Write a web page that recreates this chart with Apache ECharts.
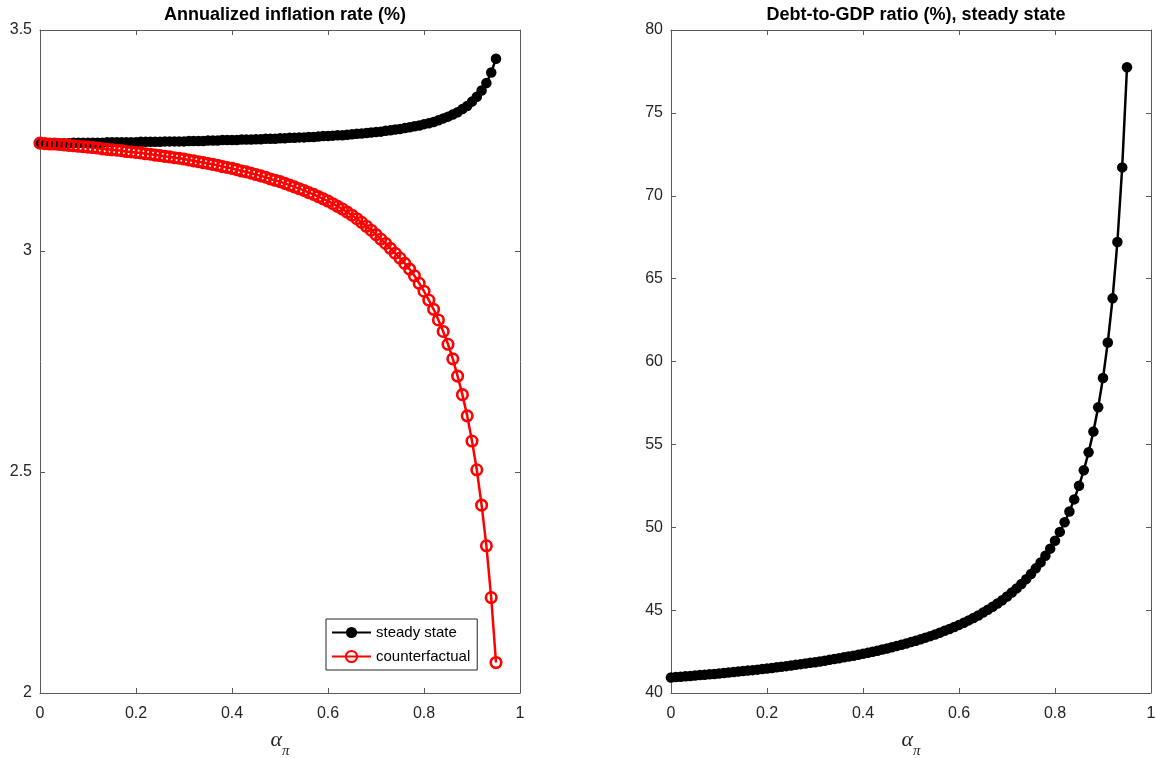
<!DOCTYPE html>
<html>
<head>
<meta charset="utf-8">
<script src="https://cdn.jsdelivr.net/npm/echarts@6/dist/echarts.min.js"></script>
<style>
html,body{margin:0;padding:0;background:#fff;width:1156px;height:758px;overflow:hidden;}
#chart{width:1156px;height:758px;}
</style>
</head>
<body>
<div id="chart"></div>
<script>
// alpha_pi grid (x values)
var alphaPi = [
0.00,0.01,0.02,0.03,0.04,0.05,0.06,0.07,0.08,0.09,
0.10,0.11,0.12,0.13,0.14,0.15,0.16,0.17,0.18,0.19,
0.20,0.21,0.22,0.23,0.24,0.25,0.26,0.27,0.28,0.29,
0.30,0.31,0.32,0.33,0.34,0.35,0.36,0.37,0.38,0.39,
0.40,0.41,0.42,0.43,0.44,0.45,0.46,0.47,0.48,0.49,
0.50,0.51,0.52,0.53,0.54,0.55,0.56,0.57,0.58,0.59,
0.60,0.61,0.62,0.63,0.64,0.65,0.66,0.67,0.68,0.69,
0.70,0.71,0.72,0.73,0.74,0.75,0.76,0.77,0.78,0.79,
0.80,0.81,0.82,0.83,0.84,0.85,0.86,0.87,0.88,0.89,
0.90,0.91,0.92,0.93,0.94,0.95];

// Annualized inflation rate (%), steady state
var inflSteady = [
3.244,3.244,3.244,3.244,3.244,3.244,3.244,3.245,3.245,3.245,
3.245,3.245,3.245,3.245,3.246,3.246,3.246,3.246,3.246,3.246,
3.246,3.247,3.247,3.247,3.247,3.247,3.248,3.248,3.248,3.248,
3.248,3.249,3.249,3.249,3.249,3.250,3.250,3.250,3.251,3.251,
3.251,3.251,3.252,3.252,3.252,3.253,3.253,3.254,3.254,3.254,
3.255,3.255,3.256,3.256,3.257,3.257,3.258,3.258,3.259,3.260,
3.260,3.261,3.262,3.262,3.263,3.264,3.265,3.266,3.267,3.268,
3.269,3.270,3.272,3.273,3.275,3.276,3.278,3.280,3.282,3.284,
3.287,3.289,3.292,3.296,3.300,3.304,3.309,3.314,3.321,3.328,
3.338,3.349,3.363,3.380,3.404,3.435];

// Annualized inflation rate (%), counterfactual
var inflCounter = [
3.244,3.243,3.242,3.242,3.241,3.240,3.239,3.238,3.237,3.236,
3.235,3.234,3.233,3.231,3.230,3.229,3.228,3.227,3.225,3.224,
3.223,3.222,3.220,3.219,3.217,3.216,3.214,3.213,3.211,3.210,
3.208,3.206,3.204,3.202,3.200,3.198,3.196,3.194,3.191,3.189,
3.187,3.184,3.181,3.179,3.176,3.173,3.170,3.167,3.163,3.160,
3.157,3.153,3.149,3.145,3.141,3.137,3.132,3.128,3.123,3.118,
3.113,3.107,3.101,3.095,3.088,3.081,3.073,3.065,3.056,3.047,
3.037,3.027,3.017,3.006,2.995,2.984,2.972,2.959,2.944,2.927,
2.909,2.889,2.868,2.844,2.818,2.789,2.756,2.717,2.675,2.627,
2.570,2.505,2.425,2.333,2.216,2.069];

// Debt-to-GDP ratio (%), steady state
var debtGDP = [
40.94,40.96,40.98,41.01,41.03,41.05,41.08,41.10,41.13,41.15,
41.18,41.21,41.24,41.26,41.29,41.32,41.35,41.38,41.41,41.45,
41.48,41.51,41.55,41.58,41.62,41.66,41.70,41.74,41.78,41.82,
41.86,41.90,41.95,42.00,42.05,42.10,42.15,42.20,42.25,42.31,
42.37,42.43,42.49,42.55,42.62,42.69,42.76,42.83,42.91,42.99,
43.07,43.15,43.24,43.34,43.43,43.53,43.64,43.75,43.86,43.98,
44.11,44.24,44.38,44.53,44.68,44.85,45.02,45.20,45.40,45.60,
45.82,46.06,46.31,46.58,46.87,47.18,47.52,47.88,48.28,48.71,
49.19,49.72,50.30,50.95,51.68,52.50,53.44,54.52,55.77,57.24,
59.00,61.15,63.81,67.21,71.71,77.75];

var seriesNames = ['steady state', 'counterfactual'];
var titles = ['Annualized inflation rate (%)', 'Debt-to-GDP ratio (%), steady state'];

function pairs(xs, ys) { return xs.map(function (x, i) { return [x, ys[i]]; }); }

var axisColor = '#5a5a5a';
var labelColor = '#262626';
var FONT = 'Liberation Sans';

function xAxisMain(gi) {
  return {
    type: 'value', gridIndex: gi, min: 0, max: 1, interval: 0.2, position: 'bottom',
    axisLine: { show: true, onZero: false, lineStyle: { color: axisColor, width: 1 } },
    axisTick: { show: true, inside: true, length: 5, lineStyle: { color: axisColor } },
    splitLine: { show: false },
    axisLabel: { color: labelColor, fontSize: 16, fontFamily: FONT, margin: 13 },
    name: '{a|α}{b|π}', nameLocation: 'middle', nameGap: 36,
    nameTextStyle: {
      rich: {
        a: { fontFamily: 'Liberation Serif', fontStyle: 'italic', fontSize: 22, color: labelColor, verticalAlign: 'bottom', padding: [0, 0, 8, 0] },
        b: { fontFamily: 'Liberation Serif', fontStyle: 'italic', fontSize: 15, color: labelColor, verticalAlign: 'bottom' }
      }
    }
  };
}
function xAxisMirror(gi) {
  return {
    type: 'value', gridIndex: gi, min: 0, max: 1, interval: 0.2, position: 'top',
    axisLine: { show: true, onZero: false, lineStyle: { color: axisColor, width: 1 } },
    axisTick: { show: true, inside: true, length: 5, lineStyle: { color: axisColor } },
    axisLabel: { show: false }, splitLine: { show: false }
  };
}
function yAxisMain(gi, mn, mx, iv) {
  return {
    type: 'value', gridIndex: gi, min: mn, max: mx, interval: iv, position: 'left',
    axisLine: { show: true, onZero: false, lineStyle: { color: axisColor, width: 1 } },
    axisTick: { show: true, inside: true, length: 5, lineStyle: { color: axisColor } },
    splitLine: { show: false },
    axisLabel: { color: labelColor, fontSize: 16, fontFamily: FONT, margin: 8 }
  };
}
function yAxisMirror(gi, mn, mx, iv) {
  return {
    type: 'value', gridIndex: gi, min: mn, max: mx, interval: iv, position: 'right',
    axisLine: { show: true, onZero: false, lineStyle: { color: axisColor, width: 1 } },
    axisTick: { show: true, inside: true, length: 5, lineStyle: { color: axisColor } },
    axisLabel: { show: false }, splitLine: { show: false }
  };
}

var chart = echarts.init(document.getElementById('chart'), null, { renderer: 'canvas', width: 1156, height: 758 });
chart.setOption({
  animation: false,
  backgroundColor: '#ffffff',
  textStyle: { fontFamily: FONT },
  title: [
    { text: titles[0], left: 280, top: 1, textAlign: 'center',
      textStyle: { fontSize: 18, fontWeight: 'bold', color: '#000', fontFamily: FONT } },
    { text: titles[1], left: 911, top: 1, textAlign: 'center',
      textStyle: { fontSize: 18, fontWeight: 'bold', color: '#000', fontFamily: FONT } }
  ],
  grid: [
    { left: 40, top: 30, width: 480, height: 663, containLabel: false, outerBoundsMode: 'none' },
    { left: 671, top: 30, width: 480, height: 663, containLabel: false, outerBoundsMode: 'none' }
  ],
  legend: {
    data: seriesNames,
    orient: 'vertical', left: 326, top: 619,
    itemWidth: 39, itemHeight: 14, itemGap: 9,
    padding: [6, 7, 6, 5],
    backgroundColor: '#fff', borderColor: '#262626', borderWidth: 1, borderRadius: 0,
    selectedMode: false,
    textStyle: { fontSize: 15, color: '#000', fontFamily: FONT }
  },
  xAxis: [xAxisMain(0), xAxisMirror(0), xAxisMain(1), xAxisMirror(1)],
  yAxis: [yAxisMain(0, 2, 3.5, 0.5), yAxisMirror(0, 2, 3.5, 0.5), yAxisMain(1, 40, 80, 5), yAxisMirror(1, 40, 80, 5)],
  series: [
    {
      name: seriesNames[0], type: 'line', xAxisIndex: 0, yAxisIndex: 0,
      data: pairs(alphaPi, inflSteady),
      symbol: 'circle', symbolSize: 10.5,
      itemStyle: { color: '#000' },
      lineStyle: { color: '#000', width: 2.5 }
    },
    {
      name: seriesNames[1], type: 'line', xAxisIndex: 0, yAxisIndex: 0,
      data: pairs(alphaPi, inflCounter),
      symbol: 'circle', symbolSize: 10.5,
      itemStyle: { color: 'rgba(255,255,255,0)', borderColor: '#ff0000', borderWidth: 2.6 },
      lineStyle: { color: '#ff0000', width: 2.5 }
    },
    {
      name: 'debt', type: 'line', xAxisIndex: 2, yAxisIndex: 2,
      data: pairs(alphaPi, debtGDP),
      symbol: 'circle', symbolSize: 10.5,
      itemStyle: { color: '#000' },
      lineStyle: { color: '#000', width: 2.5 }
    }
  ]
});
</script>
</body>
</html>
